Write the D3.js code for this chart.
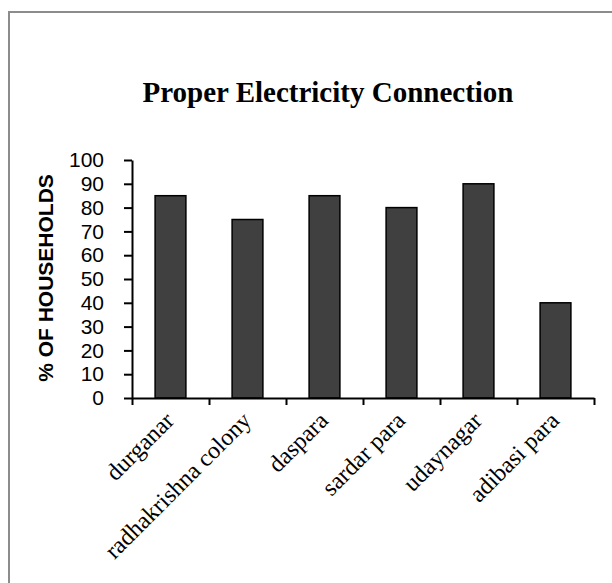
<!DOCTYPE html>
<html>
<head>
<meta charset="utf-8">
<script src="https://cdn.jsdelivr.net/npm/d3@7"></script>
<style>
  html, body { margin: 0; padding: 0; background: #fff; }
  svg { display: block; }
  .tick text { fill: #000; }
</style>
</head>
<body>
<svg id="chart" width="612" height="583"></svg>
<script>
// Share of households with a proper electricity connection, by locality
const categories = ["durganar", "radhakrishna colony", "daspara", "sardar para", "udaynagar", "adibasi para"];
const values = [85, 75, 85, 80, 90, 40];
const yTicks = [0, 10, 20, 30, 40, 50, 60, 70, 80, 90, 100];
const titleText = "Proper Electricity Connection";
const yLabel = "% OF HOUSEHOLDS";

const svg = d3.select("#chart");
const W = 612, H = 583;
const plot = { left: 132, right: 594, top: 160, bottom: 398 };

// Outer frame of the chart area
svg.append("rect")
  .attr("x", 9).attr("y", 12)
  .attr("width", W).attr("height", H)
  .attr("fill", "#fff")
  .attr("stroke", "#8c8c8c")
  .attr("stroke-width", 2);

const x = d3.scaleBand()
  .domain(categories)
  .range([plot.left, plot.right])
  .paddingInner(0.6)
  .paddingOuter(0.3);

const y = d3.scaleLinear()
  .domain([0, 100])
  .range([plot.bottom, plot.top]);

// Title
svg.append("text")
  .attr("x", 328).attr("y", 101.5)
  .attr("text-anchor", "middle")
  .attr("font-family", "'Liberation Serif', 'Times New Roman', serif")
  .attr("font-weight", "bold")
  .attr("font-size", 29)
  .attr("fill", "#000")
  .text(titleText);

// Bars
svg.append("g")
  .selectAll("rect")
  .data(values)
  .join("rect")
  .attr("x", (d, i) => x(categories[i]))
  .attr("y", d => y(d))
  .attr("width", x.bandwidth())
  .attr("height", d => y(0) - y(d))
  .attr("fill", "#404040")
  .attr("stroke", "#000")
  .attr("stroke-width", 1.5);

// Y axis
const yAxis = svg.append("g")
  .attr("transform", `translate(${plot.left},0)`)
  .call(d3.axisLeft(y).tickValues(yTicks).tickSize(8).tickSizeOuter(0).tickPadding(20));
yAxis.selectAll("path, line").attr("stroke", "#000").attr("stroke-width", 2);
yAxis.selectAll("text")
  .attr("font-family", "'Liberation Sans', Arial, sans-serif")
  .attr("font-size", 21);

// X axis: tick marks sit on the boundaries between categories
const edges = d3.range(categories.length + 1);
const xEdge = d3.scaleLinear()
  .domain([0, categories.length])
  .range([plot.left, plot.right]);
const xAxis = svg.append("g")
  .attr("transform", `translate(0,${plot.bottom})`)
  .call(d3.axisBottom(xEdge).tickValues(edges).tickSize(7).tickSizeOuter(0).tickFormat(""));
xAxis.selectAll("path, line").attr("stroke", "#000").attr("stroke-width", 2);

// Category labels, rotated
svg.append("g")
  .selectAll("text")
  .data(categories)
  .join("text")
  .attr("transform", d => `translate(${x(d) + x.bandwidth() / 2 + 5},${plot.bottom + 24}) rotate(-45)`)
  .attr("text-anchor", "end")
  .attr("font-family", "'Liberation Serif', 'Times New Roman', serif")
  .attr("font-size", 24)
  .attr("fill", "#000")
  .text(d => d);

// Y axis title
svg.append("text")
  .attr("transform", `translate(52.5,278) rotate(-90)`)
  .attr("text-anchor", "middle")
  .attr("font-family", "'Liberation Sans', Arial, sans-serif")
  .attr("font-weight", "bold")
  .attr("font-size", 21)
  .attr("fill", "#000")
  .text(yLabel);
</script>
</body>
</html>
